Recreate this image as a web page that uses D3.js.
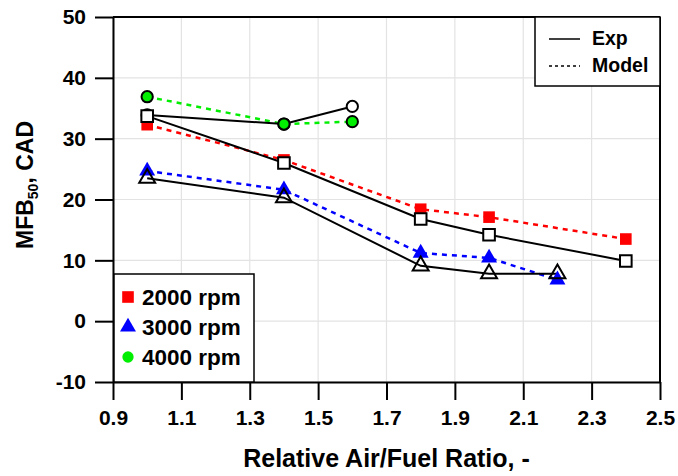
<!DOCTYPE html>
<html>
<head>
<meta charset="utf-8">
<script src="https://cdn.jsdelivr.net/npm/d3@7"></script>
<style>
  body { margin: 0; background: #fff; }
  text { font-family: "Liberation Sans", Arial, sans-serif; font-weight: bold; fill: #000; }
</style>
</head>
<body>
<div id="chart"></div>
<script>
// data
const xTicks = [0.9, 1.1, 1.3, 1.5, 1.7, 1.9, 2.1, 2.3, 2.5];
const yTicks = [-10, 0, 10, 20, 30, 40, 50];

const afr2000 = [1.0, 1.4, 1.8, 2.0, 2.4];
const exp2000 = [33.7, 26.0, 16.8, 14.2, 9.9];
const model2000 = [32.3, 26.5, 18.4, 17.1, 13.5];

const afr3000 = [1.0, 1.4, 1.8, 2.0, 2.2];
const exp3000 = [23.5, 20.3, 9.1, 7.8, 7.8];
const model3000 = [24.7, 21.6, 11.2, 10.4, 6.8];

const afr4000 = [1.0, 1.4, 1.6];
const exp4000 = [33.9, 32.4, 35.3];
const model4000 = [36.9, 32.4, 32.8];

const rpmLabels = ["2000 rpm", "3000 rpm", "4000 rpm"];
const styleLabels = ["Exp", "Model"];

const width = 678, height = 476;
const margin = {top: 17, right: 18, bottom: 94, left: 113};

const svg = d3.select("#chart").append("svg")
    .attr("width", width)
    .attr("height", height);

const x = d3.scaleLinear()
    .domain([0.9, 2.5])
    .range([margin.left, width - margin.right]);

const y = d3.scaleLinear()
    .domain([-10, 50])
    .range([height - margin.bottom, margin.top]);

// grid
svg.append("g")
    .selectAll("line.vgrid")
    .data(xTicks)
    .enter()
    .append("line")
    .attr("x1", d => x(d)).attr("x2", d => x(d))
    .attr("y1", y(-10)).attr("y2", y(50))
    .attr("stroke", "#e3e3e3")
    .attr("stroke-width", 1.2);

svg.append("g")
    .selectAll("line.hgrid")
    .data(yTicks)
    .enter()
    .append("line")
    .attr("x1", x(0.9)).attr("x2", x(2.5))
    .attr("y1", d => y(d)).attr("y2", d => y(d))
    .attr("stroke", "#e3e3e3")
    .attr("stroke-width", 1.2);

// axes
const xAxis = d3.axisBottom(x)
    .tickValues(xTicks)
    .tickFormat(d3.format(".1f"))
    .tickSize(18)
    .tickSizeOuter(0)
    .tickPadding(10);

const yAxis = d3.axisLeft(y)
    .tickValues(yTicks)
    .tickFormat(d => String(d))
    .tickSize(18)
    .tickSizeOuter(0)
    .tickPadding(9);

const gx = svg.append("g")
    .attr("transform", "translate(0," + y(-10) + ")")
    .call(xAxis);

const gy = svg.append("g")
    .attr("transform", "translate(" + x(0.9) + ",0)")
    .call(yAxis);

[gx, gy].forEach(g => {
    g.select(".domain").attr("stroke", "#000").attr("stroke-width", 2);
    g.selectAll(".tick line").attr("stroke", "#000").attr("stroke-width", 2);
    g.selectAll(".tick text")
        .style("font-family", "'Liberation Sans', Arial, sans-serif")
        .style("font-weight", "bold")
        .style("font-size", "21px")
        .attr("fill", "#000");
});

// top and right frame
svg.append("line")
    .attr("x1", x(0.9)).attr("x2", x(2.5))
    .attr("y1", y(50)).attr("y2", y(50))
    .attr("stroke", "#000").attr("stroke-width", 2);
svg.append("line")
    .attr("x1", x(2.5)).attr("x2", x(2.5))
    .attr("y1", y(50)).attr("y2", y(-10))
    .attr("stroke", "#000").attr("stroke-width", 2);

// axis titles
svg.append("text")
    .attr("x", (x(0.9) + x(2.5)) / 2)
    .attr("y", 467)
    .attr("text-anchor", "middle")
    .style("font-size", "25px")
    .text("Relative Air/Fuel Ratio, -");

const yTitle = svg.append("text")
    .attr("transform", "translate(33,185) rotate(-90)")
    .attr("text-anchor", "middle")
    .style("font-size", "23px");
yTitle.append("tspan").text("MFB");
yTitle.append("tspan").attr("dy", 5).style("font-size", "14px").text("50");
yTitle.append("tspan").attr("dy", -5).text(", CAD");

// lines
const line = d3.line()
    .x(d => x(d[0]))
    .y(d => y(d[1]));

const series = [
    {afr: afr2000, vals: model2000, color: "#ff0000", dashed: true},
    {afr: afr3000, vals: model3000, color: "#0000ff", dashed: true},
    {afr: afr4000, vals: model4000, color: "#00ee00", dashed: true},
    {afr: afr2000, vals: exp2000, color: "#000", dashed: false},
    {afr: afr3000, vals: exp3000, color: "#000", dashed: false},
    {afr: afr4000, vals: exp4000, color: "#000", dashed: false}
];

series.forEach(s => {
    svg.append("path")
        .datum(d3.zip(s.afr, s.vals))
        .attr("d", line)
        .attr("fill", "none")
        .attr("stroke", s.color)
        .attr("stroke-width", s.dashed ? 2.5 : 2)
        .attr("stroke-dasharray", s.dashed ? "5,5" : null);
});

// markers
const sym = {
    square: d3.symbol().type(d3.symbolSquare).size(135),
    triangle: d3.symbol().type(d3.symbolTriangle).size(110),
    circle: d3.symbol().type(d3.symbolCircle).size(100)
};

function drawMarkers(afr, vals, shape, fill, stroke) {
    svg.append("g")
        .selectAll("path")
        .data(d3.zip(afr, vals))
        .enter()
        .append("path")
        .attr("d", sym[shape])
        .attr("transform", d => "translate(" + x(d[0]) + "," + y(d[1]) + ")")
        .attr("fill", fill)
        .attr("stroke", stroke)
        .attr("stroke-width", stroke === "none" ? 0 : 2);
}

drawMarkers(afr2000, model2000, "square", "#ff0000", "none");
drawMarkers(afr3000, model3000, "triangle", "#0000ff", "none");
drawMarkers(afr4000, exp4000, "circle", "#fff", "#000");
drawMarkers(afr2000, exp2000, "square", "#fff", "#000");
drawMarkers(afr3000, exp3000, "triangle", "none", "#000");
drawMarkers(afr4000, model4000, "circle", "#00ee00", "#000");

// rpm legend
const leg1 = svg.append("g");
leg1.append("rect")
    .attr("x", x(0.9) + 1).attr("y", 274)
    .attr("width", 140).attr("height", y(-10) - 274)
    .attr("fill", "#fff")
    .attr("stroke", "#000").attr("stroke-width", 1.5);

const legShapes = ["square", "triangle", "circle"];
const legColors = ["#ff0000", "#0000ff", "#00ee00"];
rpmLabels.forEach((lab, i) => {
    const cy = 297 + i * 30;
    leg1.append("path")
        .attr("d", sym[legShapes[i]])
        .attr("transform", "translate(128," + cy + ")")
        .attr("fill", legColors[i]);
    leg1.append("text")
        .attr("x", 142).attr("y", cy + 8)
        .style("font-size", "22.5px")
        .text(lab);
});

// Exp / Model legend
const leg2 = svg.append("g");
leg2.append("rect")
    .attr("x", 535).attr("y", y(50))
    .attr("width", x(2.5) - 535).attr("height", 69)
    .attr("fill", "#fff")
    .attr("stroke", "#000").attr("stroke-width", 1.5);

styleLabels.forEach((lab, i) => {
    const cy = 39 + i * 27;
    leg2.append("line")
        .attr("x1", 549).attr("x2", 580)
        .attr("y1", cy).attr("y2", cy)
        .attr("stroke", "#000")
        .attr("stroke-width", 1.5)
        .attr("stroke-dasharray", i === 1 ? "3,3" : null);
    leg2.append("text")
        .attr("x", 592).attr("y", cy + 6)
        .style("font-size", "19.5px")
        .text(lab);
});
</script>
</body>
</html>
